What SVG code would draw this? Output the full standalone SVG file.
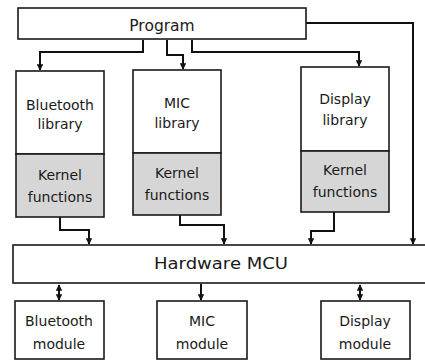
<svg xmlns="http://www.w3.org/2000/svg" width="425" height="361" viewBox="0 0 425 361">
<defs>
<style>
.box{fill:#fff;stroke:#1a1a1a;stroke-width:1.6}
.kern{fill:#d6d6d6;stroke:#1a1a1a;stroke-width:1.6}
.t{font-family:"DejaVu Sans","Liberation Sans",sans-serif;font-size:14px;fill:#1a1a1a;text-anchor:middle}
.big{font-size:15.5px}
.c{fill:none;stroke:#111;stroke-width:2}
</style>
<marker id="ah" viewBox="0 0 10 10" refX="9" refY="5" markerWidth="3.2" markerHeight="3.2" orient="auto-start-reverse" markerUnits="strokeWidth">
<path d="M0,0 L10,5 L0,10 z" fill="#111"/>
</marker>
</defs>
<g id="connectors">
<polyline class="c" points="143,40 143,52 40,52 40,70" marker-end="url(#ah)"/>
<polyline class="c" points="167,40 167,55 183,55 183,69" marker-end="url(#ah)"/>
<polyline class="c" points="192,40 192,52 359,52 359,66" marker-end="url(#ah)"/>
<polyline class="c" points="306,23 413,23 413,244" marker-end="url(#ah)"/>
<polyline class="c" points="60,217 60,230 89,230 89,244" marker-end="url(#ah)"/>
<polyline class="c" points="180,215 180,225 224,225 224,244" marker-end="url(#ah)"/>
<polyline class="c" points="334,212 334,231 311,231 311,244" marker-end="url(#ah)"/>
<line class="c" x1="59" y1="285" x2="59" y2="300" marker-start="url(#ah)" marker-end="url(#ah)"/>
<line class="c" x1="201" y1="284" x2="201" y2="300" marker-end="url(#ah)"/>
<line class="c" x1="360" y1="285" x2="360" y2="300" marker-start="url(#ah)" marker-end="url(#ah)"/>
</g>
<g id="program">
<rect class="box" x="18" y="8" width="288" height="31"/>
<text class="t big" x="162" y="31">Program</text>
</g>
<g id="bluetooth-library">
<rect class="box" x="16" y="71" width="88" height="83"/>
<rect class="kern" x="16" y="154" width="88" height="63"/>
<text class="t" x="60" y="110">Bluetooth</text>
<text class="t" x="60" y="129">library</text>
<text class="t" x="60" y="180">Kernel</text>
<text class="t" x="60" y="202">functions</text>
</g>
<g id="mic-library">
<rect class="box" x="133" y="70" width="88" height="83"/>
<rect class="kern" x="133" y="153" width="88" height="62"/>
<text class="t" x="177" y="108">MIC</text>
<text class="t" x="177" y="128">library</text>
<text class="t" x="177" y="178">Kernel</text>
<text class="t" x="177" y="200">functions</text>
</g>
<g id="display-library">
<rect class="box" x="301" y="67" width="88" height="84"/>
<rect class="kern" x="301" y="151" width="88" height="61"/>
<text class="t" x="345" y="104">Display</text>
<text class="t" x="345" y="125">library</text>
<text class="t" x="345" y="175">Kernel</text>
<text class="t" x="345" y="197">functions</text>
</g>
<g id="hardware-mcu">
<rect class="box" x="13" y="245" width="420" height="38"/>
<text class="t big" x="221" y="269" textLength="134" lengthAdjust="spacingAndGlyphs">Hardware MCU</text>
</g>
<g id="bluetooth-module">
<rect class="box" x="15" y="301" width="89" height="58"/>
<text class="t" x="59" y="326">Bluetooth</text>
<text class="t" x="59" y="349">module</text>
</g>
<g id="mic-module">
<rect class="box" x="157" y="301" width="90" height="58"/>
<text class="t" x="202" y="326">MIC</text>
<text class="t" x="202" y="349">module</text>
</g>
<g id="display-module">
<rect class="box" x="321" y="301" width="89" height="58"/>
<text class="t" x="365" y="326">Display</text>
<text class="t" x="365" y="349">module</text>
</g>
</svg>
